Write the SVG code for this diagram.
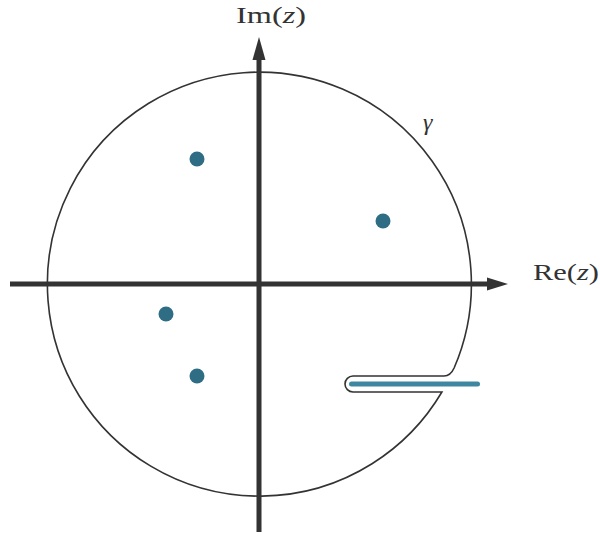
<svg xmlns="http://www.w3.org/2000/svg" width="600" height="539" viewBox="0 0 600 539">
<style>
.axis{stroke:#333;stroke-width:5;fill:none}
.head{fill:#333}
.contour{stroke:#333;stroke-width:1.6;fill:none}
.pole{fill:#2f6d85}
.lbl{font-family:"Liberation Serif","DejaVu Serif",serif;font-size:24px;fill:#333}
</style>
<rect width="600" height="539" fill="#fff"/>
<g id="axes">
<line class="axis" x1="10" y1="284" x2="489" y2="284"/>
<polygon class="head" points="508,284 487,277.5 487,290.5"/>
<line class="axis" x1="259" y1="532" x2="259" y2="58"/>
<polygon class="head" points="259,37 252.5,60 265.5,60"/>
</g>
<g id="contour">
<path class="contour" d="M454.1,368 Q450.5,376 444,376 L353,376 A8,8 0 0 0 353,392 L441.9,392 A212,212 0 1 1 454.1,368"/>
</g>
<g id="branch-cut">
<rect x="349" y="381.5" width="131" height="5" rx="2.5" fill="#3f86a0"/>
</g>
<g id="poles">
<circle class="pole" cx="197" cy="159" r="7.5"/>
<circle class="pole" cx="383" cy="221" r="7.5"/>
<circle class="pole" cx="166" cy="314" r="7.5"/>
<circle class="pole" cx="197" cy="376" r="7.5"/>
</g>
<g id="labels">
<text class="lbl" x="236" y="23" textLength="70" lengthAdjust="spacingAndGlyphs">Im(<tspan font-style="italic">z</tspan>)</text>
<text class="lbl" x="533" y="280" textLength="66" lengthAdjust="spacingAndGlyphs">Re(<tspan font-style="italic">z</tspan>)</text>
<text class="lbl" x="423" y="130" font-style="italic" font-size="24">γ</text>
</g>
</svg>
